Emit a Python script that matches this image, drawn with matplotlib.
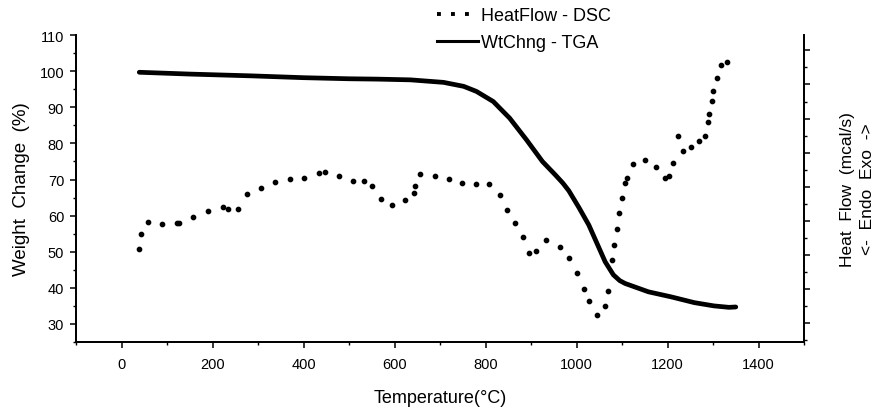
import numpy as np
import matplotlib
matplotlib.use("Agg")
import matplotlib.pyplot as plt
from matplotlib.lines import Line2D
from matplotlib.ticker import MultipleLocator

plt.rcParams['font.family'] = ['Liberation Sans', 'DejaVu Sans']

# TGA weight change (%) vs temperature (C)
tga_temp = [39, 150, 287, 400, 500, 563, 635, 708, 752, 780, 817, 853, 890, 925,
            954, 970, 983, 1005, 1027, 1045, 1063, 1081, 1095, 1107, 1158, 1208, 1259,
            1302, 1335, 1350]
tga_wt = [99.7, 99.2, 98.7, 98.2, 97.9, 97.8, 97.6, 96.9, 95.8, 94.4, 91.6, 87.0, 81.0,
          75.0, 71.2, 69.0, 66.9, 62.3, 57.4, 52.3, 47.2, 43.6, 42.0, 41.2, 38.9, 37.5,
          35.9, 35.0, 34.6, 34.7]

# DSC heat flow (arbitrary units, right axis) vs temperature (C)
dsc_temp = [39, 43, 59, 88, 121, 126, 157, 190, 222, 235, 257, 275, 307, 338, 370, 402,
            433, 447, 477, 508, 534, 550, 570, 594, 622, 643, 645, 657, 688, 719, 748,
            778, 808, 832, 847, 864, 882, 896, 911, 933, 964, 983, 1002, 1016, 1027,
            1045, 1062, 1070, 1079, 1083, 1088, 1094, 1099, 1107, 1110, 1125, 1151,
            1175, 1195, 1204, 1213, 1222, 1235, 1251, 1270, 1282, 1290, 1292, 1297,
            1300, 1308, 1318, 1331]
dsc_hf = [2.16, 2.61, 2.97, 2.90, 2.94, 2.94, 3.10, 3.29, 3.41, 3.36, 3.34, 3.78, 3.96,
          4.13, 4.23, 4.27, 4.41, 4.43, 4.30, 4.17, 4.17, 4.03, 3.64, 3.46, 3.62, 3.83,
          4.01, 4.37, 4.30, 4.24, 4.11, 4.07, 4.09, 3.75, 3.33, 2.93, 2.51, 2.05, 2.11,
          2.43, 2.24, 1.90, 1.46, 1.00, 0.65, 0.23, 0.49, 0.94, 1.85, 2.30, 2.77, 3.23,
          3.67, 4.11, 4.27, 4.67, 4.77, 4.57, 4.26, 4.32, 4.71, 5.49, 5.04, 5.16, 5.34,
          5.49, 5.89, 6.12, 6.53, 6.82, 7.18, 7.57, 7.65]

fig = plt.figure(figsize=(8.82, 4.10), dpi=100)
ax = fig.add_axes([0.0862, 0.1634, 0.8254, 0.7486])
ax2 = ax.twinx()

ax.plot(tga_temp, tga_wt, color='black', lw=3.4, solid_capstyle='round')
ax2.plot(dsc_temp, dsc_hf, linestyle='none', marker='o', markersize=3.1, color='black')

ax.set_xlim(-100, 1500)
ax.set_ylim(25, 110)
ax2.set_ylim(-0.557, 8.45)

ax.xaxis.set_major_locator(MultipleLocator(200))
ax.xaxis.set_minor_locator(MultipleLocator(100))
ax.yaxis.set_major_locator(MultipleLocator(10))
ax.yaxis.set_minor_locator(MultipleLocator(5))
ax2.yaxis.set_major_locator(MultipleLocator(1))
ax2.yaxis.set_minor_locator(MultipleLocator(0.5))
ax2.set_yticklabels([])

for a in (ax, ax2):
    a.spines['top'].set_visible(False)
    for s in a.spines.values():
        s.set_linewidth(1.3)
    a.tick_params(which='major', direction='out', length=4.5, width=1.1)
    a.tick_params(which='minor', direction='out', length=2.5, width=1.0)

ax.tick_params(axis='both', labelsize=10.5, pad=4)
ax.tick_params(axis='x', pad=6)

ax.set_xlabel('Temperature(\u00b0C)', fontsize=13, labelpad=13)
ax.set_ylabel('Weight  Change  (%)', fontsize=13.5, labelpad=7)
ax2.set_ylabel('Heat  Flow  (mcal/s)\n<-  Endo  Exo  ->', fontsize=12.5,
               rotation=90, labelpad=18, linespacing=1.4)

handles = [Line2D([], [], color='black', linestyle=(0, (1, 2.6)), lw=2.8),
           Line2D([], [], color='black', lw=2.2)]
fig.legend(handles, ['HeatFlow - DSC', 'WtChng - TGA'], loc='upper left',
           bbox_to_anchor=(0.477, 1.02), frameon=False, fontsize=13,
           handlelength=2.3, handletextpad=0.15, labelspacing=0.55)

fig.savefig('out.png', dpi=100)
